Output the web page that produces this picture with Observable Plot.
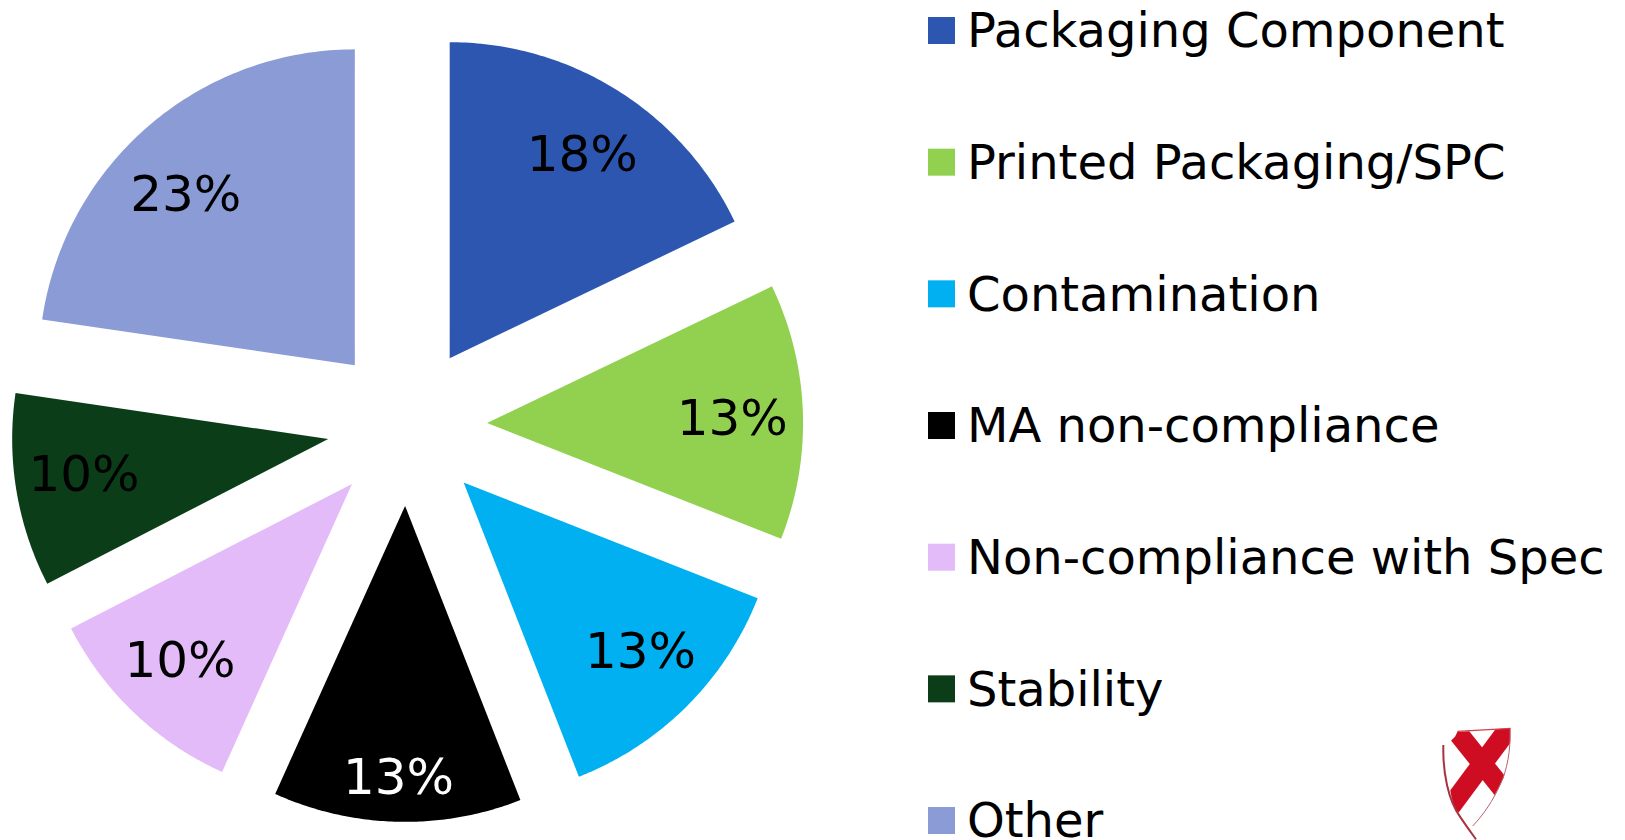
<!DOCTYPE html>
<html>
<head>
<meta charset="utf-8">
<style>
html,body{margin:0;padding:0;background:#fff;overflow:hidden}
#wrap{position:relative;width:1625px;height:840px}
#logo{position:absolute;left:1420px;top:710px;width:110px;height:130px}
</style>
<script src="https://cdn.jsdelivr.net/npm/d3@7"></script>
<script src="https://cdn.jsdelivr.net/npm/@observablehq/plot@0.6"></script>
</head>
<body>
<div id="wrap"></div>
<script>
const categories = ["Packaging Component","Printed Packaging/SPC","Contamination","MA non-compliance","Non-compliance with Spec","Stability","Other"];
const shares = [17.9,13.1,13.1,12.7,10.7,9.9,22.7];
const percentLabels = ["18%","13%","13%","13%","10%","10%","23%"];
const colors = ["#2C56B0","#92D050","#00B0F0","#000000","#E4BBF9","#0B3D19","#8A9BD6"];

// layout
const W = 1625, H = 840, CX = 406.6, CY = 425.4, R = 316, EXPLODE = 80, LABEL_R = 244, FONT = 50, LEGEND_FONT = 48;
const labelNudgeX = [2.6,1.4,4.5,-0.5,-4,-3.5,-9.5];
const labelNudgeY = [3.5,5,-3,28,0.5,-4.5,14];
const ROW0 = 30.5, ROW = 131.67, SW_X1 = 928, SW_X2 = 955, SW_H = 27, TXT_X = 966.5, TXT_DY = 1;

const arcs = d3.pie().sort(null)(shares);
const outline = [], labels = [];
arcs.forEach((a,i)=>{
  const mid = (a.startAngle+a.endAngle)/2;
  const ox = CX+EXPLODE*Math.sin(mid), oy = CY-EXPLODE*Math.cos(mid);
  outline.push({cat:categories[i],x:ox,y:oy});
  const n = 90;
  for(let k=0;k<=n;k++){
    const t = a.startAngle+(a.endAngle-a.startAngle)*k/n;
    outline.push({cat:categories[i],x:ox+R*Math.sin(t),y:oy-R*Math.cos(t)});
  }
  labels.push({cat:categories[i],text:percentLabels[i],
    x:ox+LABEL_R*Math.sin(mid)+labelNudgeX[i],y:oy-LABEL_R*Math.cos(mid)+labelNudgeY[i]});
});
const rows = categories.map((c,i)=>({cat:c,yc:ROW0+ROW*i}));

const chart = Plot.plot({
  width:W,height:H,margin:0,
  style:{background:"#fff",fontFamily:"'DejaVu Sans',sans-serif",overflow:"visible"},
  x:{domain:[0,W],range:[0,W],axis:null},
  y:{domain:[0,H],range:[0,H],axis:null},
  color:{domain:categories,range:colors,type:"ordinal"},
  marks:[
    Plot.line(outline,{x:"x",y:"y",z:"cat",fill:"cat",stroke:null,curve:"linear-closed"}),
    Plot.text(labels.filter(d=>d.cat!=="MA non-compliance"),{x:"x",y:"y",text:"text",fontSize:FONT,fill:"#000",lineAnchor:"middle"}),
    Plot.text(labels.filter(d=>d.cat==="MA non-compliance"),{x:"x",y:"y",text:"text",fontSize:FONT,fill:"#fff",lineAnchor:"middle"}),
    Plot.rect(rows,{x1:SW_X1,x2:SW_X2,y1:d=>d.yc-SW_H/2,y2:d=>d.yc+SW_H/2,fill:"cat"}),
    Plot.text(rows,{x:TXT_X,y:d=>d.yc+TXT_DY,text:"cat",textAnchor:"start",fontSize:LEGEND_FONT,fill:"#000",lineAnchor:"middle"})
  ]
});
document.getElementById("wrap").appendChild(chart);

// small shield emblem, bottom right
document.getElementById("wrap").insertAdjacentHTML("beforeend",`
<svg id="logo" viewBox="0 0 330 390" xmlns="http://www.w3.org/2000/svg">
  <defs>
    <clipPath id="sh"><path d="M85 100 L105 80 L112 66 L272 55 C272 110 268 160 250 205 C225 260 190 310 160 345 L110 310 C90 260 78 190 85 100Z"/></clipPath>
    <filter id="b"><feGaussianBlur stdDeviation="2.2"/></filter>
  </defs>
  <g filter="url(#b)">
    <g clip-path="url(#sh)" stroke="#CF0F22" stroke-width="60" fill="none">
      <path d="M108 62 L250 240"/>
      <path d="M268 52 L92 290"/>
    </g>
    <path d="M70 105 C68 190 85 270 120 320 C140 350 155 370 168 388" fill="none" stroke="#A83340" stroke-width="6"/>
    <path d="M112 64 L272 55" fill="none" stroke="#CF4050" stroke-width="4"/>
    <path d="M270 60 C272 120 262 180 240 225 C220 270 190 315 158 348" fill="none" stroke="#B8606A" stroke-width="3"/>
  </g>
</svg>`);
</script>
</body>
</html>
